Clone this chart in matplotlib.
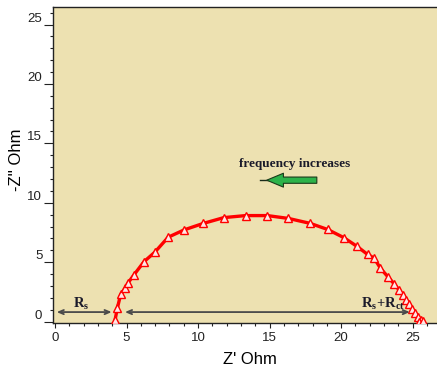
import matplotlib
matplotlib.use("Agg")
import matplotlib.pyplot as plt
from matplotlib.ticker import MultipleLocator

# Nyquist data (Z' and -Z'' in Ohm)
z_real = [4.20, 4.36, 4.59, 4.89, 5.12, 5.50, 6.22, 6.98, 7.91, 9.03, 10.36,
          11.80, 13.32, 14.85, 16.32, 17.85, 19.06, 20.18, 21.11, 21.85, 22.30,
          22.74, 23.28, 23.72, 24.05, 24.30, 24.50, 24.72, 24.95, 25.18, 25.38,
          25.60, 25.47, 25.75]
z_imag = [0.15, 1.14, 2.28, 2.80, 3.28, 3.90, 5.04, 5.84, 7.10, 7.72, 8.26,
          8.75, 8.92, 8.92, 8.68, 8.26, 7.75, 7.07, 6.33, 5.65, 5.35,
          4.50, 3.75, 3.15, 2.65, 2.25, 1.85, 1.45, 1.05, 0.70, 0.38,
          0.10, -0.05, 0.02]

rs_span = (0.12, 3.96)
rct_span = (4.89, 24.8)
arrow_y = 0.8

plt.rcParams['mathtext.fontset'] = 'custom'
plt.rcParams['mathtext.rm'] = 'Liberation Serif'
plt.rcParams['mathtext.bf'] = 'Liberation Serif:bold'

fig = plt.figure(figsize=(4.37, 3.71), dpi=100)
ax = fig.add_axes([0.1206, 0.130, 0.8794, 0.851])
ax.set_facecolor('#EDE1B1')

ax.plot(z_real, z_imag, color='#FF0000', lw=2.4, marker='^', ms=5.8,
        mfc='#FFE6E6', mec='#FF0000', mew=1.0, zorder=3)

ax.set_xlim(-0.16, 26.7)
ax.set_ylim(-0.1, 26.47)

# Rs and Rs+Rct arrows
arr = dict(arrowstyle='<->,head_length=0.35,head_width=0.15', color='#4a4a4a',
           lw=1.3, shrinkA=0, shrinkB=0)
ax.annotate('', xy=(rs_span[0], arrow_y), xytext=(rs_span[1], arrow_y), arrowprops=arr)
ax.annotate('', xy=(rct_span[0], arrow_y), xytext=(rct_span[1], arrow_y), arrowprops=arr)
ax.text(1.8, 1.5, r'$\mathbf{R_s}$', fontsize=10.5, ha='center', va='center', color='#1a1a2a')
ax.text(22.9, 1.5, r'$\mathbf{R_s{+}R_{ct}}$', fontsize=10.5, ha='center', va='center', color='#1a1a2a')

# frequency label with green arrow
ax.text(16.76, 13.3, 'frequency increases', fontsize=9.5, fontweight='bold',
        family=['Liberation Serif', 'DejaVu Serif'], ha='center', va='center', color='#1a1a2a')
ax.plot([14.3, 15.4], [11.9, 11.9], color='#1a2a1a', lw=1.0)
ax.annotate('', xy=(14.8, 11.9), xytext=(18.3, 11.9),
            arrowprops=dict(arrowstyle='simple,head_length=1.2,head_width=1.0,tail_width=0.45',
                            fc='#2DB34A', ec='#1a3a1a', lw=0.8, shrinkA=0, shrinkB=0))

# axes styling
ax.spines['right'].set_visible(False)
for s in ['left', 'top', 'bottom']:
    ax.spines[s].set_color('#222222')
    ax.spines[s].set_linewidth(1.0)

ax.xaxis.set_major_locator(MultipleLocator(5))
ax.xaxis.set_minor_locator(MultipleLocator(1))
ax.yaxis.set_major_locator(MultipleLocator(5))
ax.yaxis.set_minor_locator(MultipleLocator(1))
ax.tick_params(axis='y', which='major', length=6.5, width=0.8, labelsize=9.5, colors='#222222', pad=1)
ax.tick_params(axis='y', which='minor', length=2.3, width=0.8, colors='#222222')
ax.tick_params(axis='x', which='major', length=3.5, width=0.8, labelsize=9.5, colors='#222222', pad=3)
ax.tick_params(axis='x', which='minor', length=2.5, width=0.8, colors='#222222')
for lab in ax.get_yticklabels():
    lab.set_verticalalignment('bottom')
for lab in ax.get_xticklabels() + ax.get_yticklabels():
    lab.set_family(['Liberation Sans', 'DejaVu Sans'])

ax.set_xlabel("Z' Ohm", fontsize=12, family=['Liberation Sans', 'DejaVu Sans'])
ax.set_ylabel("-Z'' Ohm", fontsize=12, family=['Liberation Sans', 'DejaVu Sans'])
ax.xaxis.set_label_coords(0.513, -0.093)
ax.yaxis.set_label_coords(-0.075, 0.515)

fig.savefig('out.png', dpi=100)
